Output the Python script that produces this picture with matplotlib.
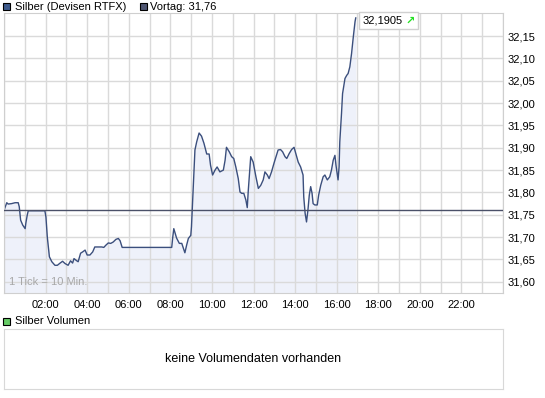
import numpy as np
import matplotlib
matplotlib.use("Agg")
import matplotlib.pyplot as plt
from matplotlib.patches import Rectangle

plt.rcParams['font.family'] = ['Liberation Sans', 'DejaVu Sans']
plt.rcParams['font.size'] = 8

# minutes since midnight / Kurs
minutes = [0, 8, 12, 22, 32, 41, 44, 48, 54, 61, 63, 67, 70, 118, 121, 125, 131, 138, 147, 154,
           162, 169, 176, 185, 192, 198, 202, 210, 214, 221, 227, 234, 240, 248, 256, 262, 282, 288,
           294, 301, 308, 315, 323, 330, 335, 341, 484, 487, 490, 498, 506, 513, 522, 527, 532, 539,
           541, 546, 551, 556, 563, 570, 577, 585, 592, 596, 602, 609, 615, 623, 633, 638, 642, 650,
           657, 663, 669, 676, 681, 686, 692, 698, 702, 705, 712, 719, 727, 734, 741, 748, 753, 760,
           765, 772, 779, 785, 791, 798, 804, 811, 816, 823, 830, 837, 842, 849, 856, 863, 865, 869,
           873, 877, 881, 885, 889, 892, 897, 904, 908, 914, 921, 926, 933, 940, 945, 950, 955, 958,
           962, 964, 967, 969, 974, 977, 984, 989, 993, 998, 1003, 1008, 1013, 1015]
prices = [31.760, 31.777, 31.774, 31.775, 31.777, 31.777, 31.768, 31.738, 31.727, 31.719, 31.731,
          31.749, 31.759, 31.759, 31.745, 31.700, 31.656, 31.645, 31.637, 31.637, 31.642, 31.646,
          31.641, 31.637, 31.647, 31.642, 31.652, 31.647, 31.645, 31.664, 31.667, 31.671, 31.660,
          31.660, 31.667, 31.678, 31.678, 31.677, 31.682, 31.687, 31.686, 31.689, 31.695, 31.697,
          31.692, 31.677, 31.677, 31.700, 31.719, 31.698, 31.686, 31.686, 31.665, 31.682, 31.697,
          31.704, 31.723, 31.809, 31.895, 31.913, 31.933, 31.926, 31.910, 31.886, 31.886, 31.861,
          31.839, 31.850, 31.857, 31.846, 31.850, 31.872, 31.901, 31.891, 31.880, 31.876, 31.857,
          31.831, 31.801, 31.798, 31.798, 31.783, 31.766, 31.805, 31.880, 31.868, 31.835, 31.809,
          31.816, 31.828, 31.846, 31.839, 31.831, 31.846, 31.865, 31.880, 31.895, 31.896, 31.891,
          31.880, 31.876, 31.887, 31.896, 31.901, 31.887, 31.868, 31.857, 31.839, 31.790, 31.753,
          31.734, 31.760, 31.794, 31.813, 31.798, 31.775, 31.772, 31.772, 31.794, 31.816, 31.835,
          31.839, 31.828, 31.835, 31.850, 31.872, 31.883, 31.861, 31.839, 31.828, 31.857, 31.913,
          31.977, 32.021, 32.055, 32.062, 32.066, 32.081, 32.111, 32.148, 32.182, 32.1905]
vortag = 31.76
last_price = "32,1905"
y_ticks = [31.60, 31.65, 31.70, 31.75, 31.80, 31.85, 31.90, 31.95, 32.00, 32.05, 32.10, 32.15]
x_labels = ["02:00", "04:00", "06:00", "08:00", "10:00", "12:00",
            "14:00", "16:00", "18:00", "20:00", "22:00"]

W, H = 545, 398
fig = plt.figure(figsize=(W / 100, H / 100), dpi=100)

def fx(px):
    return px / W

def fy(py):
    return 1 - py / H

line_col = '#3b4f7d'
grid_col = '#dadada'

# Kurs-Chart
ax = fig.add_axes([fx(4), fy(293), fx(499), 280 / H])
ax.set_xlim(0, 1440)
ax.set_ylim(31.575, 32.2015)
ax.fill_between(minutes, prices, 31.575, color='#eef1fa', lw=0, zorder=1)
ax.plot(minutes, prices, color=line_col, lw=1.0, zorder=2)
ax.axhline(vortag, color='#4a5068', lw=1.0, zorder=3)

ax.set_xticks(np.arange(0, 1441, 60), minor=True)
ax.set_xticks(np.arange(120, 1321, 120))
ax.set_xticklabels(x_labels)
ax.set_yticks(y_ticks)
ax.set_yticklabels([f"{v:.2f}".replace('.', ',') for v in y_ticks])
ax.yaxis.tick_right()
ax.tick_params(axis='both', which='both', length=0, labelsize=8, colors='black')
ax.tick_params(axis='y', pad=3)
ax.tick_params(axis='x', pad=5)
ax.grid(True, which='both', color=grid_col, lw=1)
ax.set_axisbelow('line')
for s in ax.spines.values():
    s.set_color('#cfcfcf')
ax.text(0.01, 0.02, "1 Tick = 10 Min.", transform=ax.transAxes, color='#a8a8a8',
        fontsize=8, ha='left', va='bottom', zorder=4)

# Legende oben
fig.patches.append(Rectangle((fx(3), fy(10)), fx(7), 7 / H, transform=fig.transFigure,
                             facecolor='#3e5a8c', edgecolor='black', lw=0.8))
fig.text(fx(15), fy(7), "Silber (Devisen RTFX)", ha='left', va='center', fontsize=8)
fig.patches.append(Rectangle((fx(140), fy(10)), fx(7), 7 / H, transform=fig.transFigure,
                             facecolor='#4f5672', edgecolor='black', lw=0.8))
fig.text(fx(150), fy(7), "Vortag: " + f"{vortag:.2f}".replace('.', ','),
         ha='left', va='center', fontsize=8)

# letzter Kurs
fig.patches.append(Rectangle((fx(359), fy(29)), fx(59), 17 / H, transform=fig.transFigure,
                             facecolor='white', edgecolor='#d0d0d0', lw=1, zorder=5))
fig.text(fx(363), fy(20.5), last_price, ha='left', va='center', fontsize=8, zorder=6)
fig.text(fx(405), fy(20.5), "\u2197", ha='left', va='center', fontsize=8,
         color='#22e022', fontweight='bold', zorder=6,
         family=['DejaVu Sans'])

# Volumen
fig.patches.append(Rectangle((fx(3), fy(325)), fx(7), 7 / H, transform=fig.transFigure,
                             facecolor='#66cc66', edgecolor='black', lw=0.8))
fig.text(fx(15), fy(321.5), "Silber Volumen", ha='left', va='center', fontsize=8)
ax2 = fig.add_axes([fx(4), fy(389), fx(499), 60 / H])
ax2.set_xticks([])
ax2.set_yticks([])
for s in ax2.spines.values():
    s.set_color('#d8d8d8')
ax2.text(0.5, 0.5, "keine Volumendaten vorhanden", transform=ax2.transAxes,
         ha='center', va='center', fontsize=9)

fig.savefig("out.png", dpi=100)
